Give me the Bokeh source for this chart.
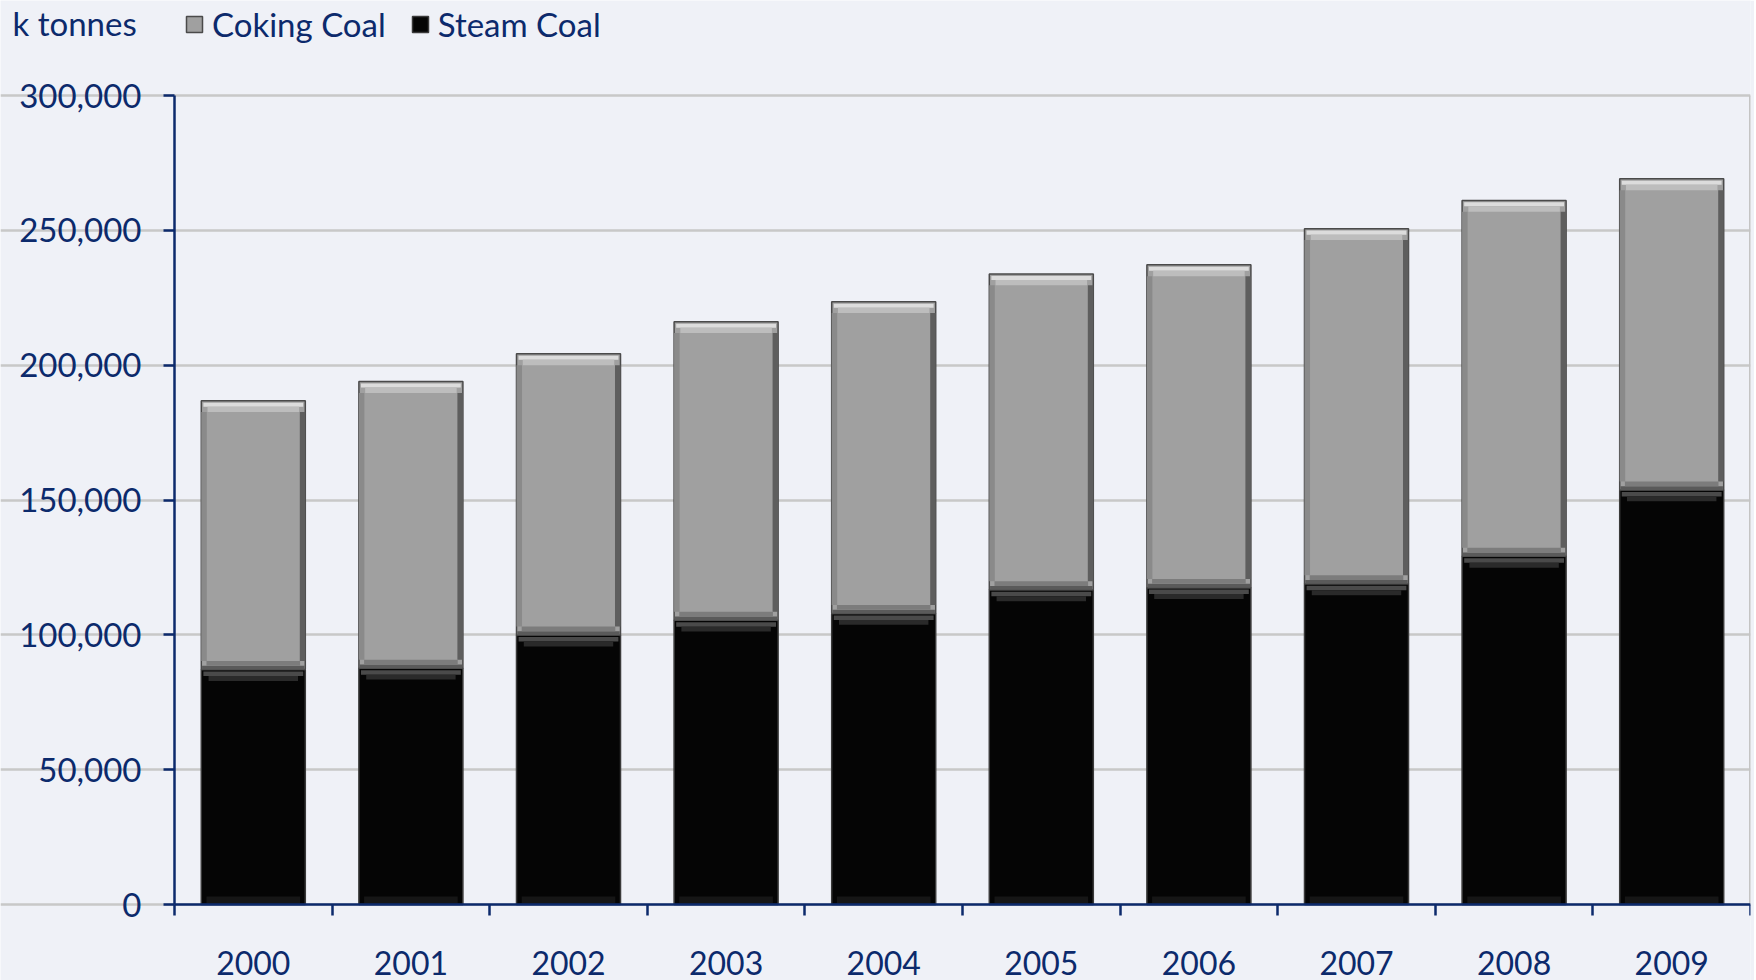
from bokeh.plotting import figure
from bokeh.models import (ColumnDataSource, FixedTicker, Legend, LegendItem, Label,
                          NumeralTickFormatter, Range1d)
from bokeh.embed import file_html
from bokeh.resources import INLINE

years = ['2000', '2001', '2002', '2003', '2004', '2005', '2006', '2007', '2008', '2009']
steam_coal = [87100, 87600, 99900, 105400, 107900, 116700, 117500, 118900, 129100, 153700]
coking_coal = [99700, 106300, 104300, 110700, 115600, 117100, 119700, 131700, 132000, 115400]
y_ticks = [0, 50000, 100000, 150000, 200000, 250000, 300000]

NAVY = "#0c2a6c"
FONT = "Lato"

n = len(years)
x = [i + 0.5 for i in range(n)]
tops = [s + c for s, c in zip(steam_coal, coking_coal)]
zeros = [0] * n
W = 0.66
EDGE = 0.035

src = ColumnDataSource(dict(
    x=x, steam=steam_coal, top=tops, zero=zeros,
    xl=[v - W / 2 + EDGE / 2 for v in x], xr=[v + W / 2 - EDGE / 2 for v in x],
    s_hi_top=[s - 700 for s in steam_coal], s_hi_mid=[s - 2400 for s in steam_coal],
    s_hi_bot=[s - 4200 for s in steam_coal],
    c_hi_top=[t - 700 for t in tops], c_hi_mid=[t - 2200 for t in tops],
    c_hi_bot=[t - 4200 for t in tops],
    c_lo_top=[s + 3200 for s in steam_coal], c_lo_mid=[s + 1400 for s in steam_coal],
    s_lo_top=[3000] * n))

# The frame covers the whole figure so the legend, unit label and tick labels sit
# inside it; both axes are drawn at fixed data locations and bounded.
FIG_W, FIG_H = 1754, 980
frame_w = 1750
axis_x_px = 174      # x pixel of the value axis
axis_y_px = 904      # y pixel of the zero line
top_px = 95          # y pixel of the 300,000 line
plot_h = axis_y_px - top_px
y_top = y_ticks[-1] * axis_y_px / plot_h
y_bottom = -y_ticks[-1] * (FIG_H - axis_y_px) / plot_h
x_start = -n * axis_x_px / (frame_w - axis_x_px)

p = figure(width=FIG_W, height=FIG_H, output_backend="svg", toolbar_location=None,
           x_range=Range1d(x_start, n), y_range=Range1d(y_bottom, y_top),
           min_border_left=0, min_border_right=FIG_W - frame_w, min_border_top=0,
           min_border_bottom=0)

p.background_fill_color = "#eff1f7"
p.border_fill_color = "#eff1f7"
p.outline_line_color = None

# gray plot-area border on the right (top line is the 300,000 grid line)
p.segment(x0=[n], y0=[0], x1=[n], y1=[y_ticks[-1]], line_color="#c4c4c4", line_width=3)

# steam coal (black)
steam_r = p.vbar(x='x', bottom='zero', top='steam', width=W, source=src,
                 fill_color="#050505", line_color="#3a3a3a", line_width=1.5)
p.vbar(x='x', bottom='zero', top='s_lo_top', width=W * 0.9, source=src,
       fill_color="#161616", line_color=None)
p.vbar(x='x', bottom='s_hi_mid', top='s_hi_top', width=W * 0.96, source=src,
       fill_color="#4a4a4a", line_color=None)
p.vbar(x='x', bottom='s_hi_bot', top='s_hi_mid', width=W * 0.86, source=src,
       fill_color="#2a2a2a", line_color=None)

# coking coal (gray)
coking_r = p.vbar(x='x', bottom='steam', top='top', width=W, source=src,
                  fill_color="#a0a0a0", line_color="#4a4a4a", line_width=1.5)
p.vbar(x='xr', bottom='c_lo_top', top='c_hi_bot', width=EDGE, source=src,
       fill_color="#5e5e5e", line_color=None)
p.vbar(x='xl', bottom='c_lo_top', top='c_hi_bot', width=EDGE, source=src,
       fill_color="#8a8a8a", line_color=None)
p.vbar(x='x', bottom='steam', top='c_lo_mid', width=W * 0.985, source=src,
       fill_color="#5a5a5a", line_color=None)
p.vbar(x='x', bottom='c_lo_mid', top='c_lo_top', width=W * 0.9, source=src,
       fill_color="#7c7c7c", line_color=None)
p.vbar(x='x', bottom='c_hi_mid', top='c_hi_top', width=W * 0.96, source=src,
       fill_color="#dcdcdc", line_color=None)
p.vbar(x='x', bottom='c_hi_bot', top='c_hi_mid', width=W * 0.88, source=src,
       fill_color="#bdbdbd", line_color=None)

# axes
p.xaxis.fixed_location = 0
p.xaxis.ticker = FixedTicker(ticks=x, minor_ticks=list(range(n + 1)))
p.xaxis.bounds = (0, n)
p.xaxis.major_label_overrides = {xx: yr for xx, yr in zip(x, years)}
p.xaxis.major_tick_out = 0
p.xaxis.major_tick_in = 0
p.xaxis.minor_tick_out = 11
p.xaxis.minor_tick_in = 0
p.xaxis.minor_tick_line_color = NAVY
p.xaxis.minor_tick_line_width = 2.5
p.xaxis.major_label_standoff = 35

p.yaxis.fixed_location = 0
p.yaxis.ticker = FixedTicker(ticks=y_ticks)
p.yaxis.bounds = (y_ticks[0], y_ticks[-1])
p.yaxis.formatter = NumeralTickFormatter(format="0,0")
p.yaxis.major_tick_out = 11
p.yaxis.major_tick_in = 0
p.yaxis.minor_tick_out = 0
p.yaxis.minor_tick_in = 0
p.yaxis.major_label_standoff = 22

for ax in (p.xaxis, p.yaxis):
    ax.axis_line_color = NAVY
    ax.axis_line_width = 2.5
    ax.major_tick_line_color = NAVY
    ax.major_tick_line_width = 2.5
    ax.major_label_text_color = NAVY
    ax.major_label_text_font = FONT
    ax.major_label_text_font_size = "32px"
p.yaxis.major_label_text_font_size = "33px"

p.xgrid.visible = False
p.ygrid.ticker = FixedTicker(ticks=y_ticks)
p.ygrid.bounds = (0, n)
p.ygrid.grid_line_color = "#c8c8c8"
p.ygrid.grid_line_width = 2.5

legend = Legend(items=[LegendItem(label="Coking Coal", renderers=[coking_r]),
                       LegendItem(label="Steam Coal", renderers=[steam_r])],
                orientation="horizontal", location=(184, FIG_H - 44),
                background_fill_alpha=0, border_line_color=None,
                label_text_font=FONT, label_text_font_size="33px",
                label_text_color=NAVY, glyph_width=20, glyph_height=20,
                spacing=24, padding=0, margin=0, label_standoff=8)
p.add_layout(legend, "center")

p.add_layout(Label(x=12, y=FIG_H - 42, x_units="screen", y_units="screen",
                   text="k tonnes", text_font=FONT, text_font_size="33px",
                   text_color=NAVY))

open("out.html", "w").write(file_html(p, INLINE))
